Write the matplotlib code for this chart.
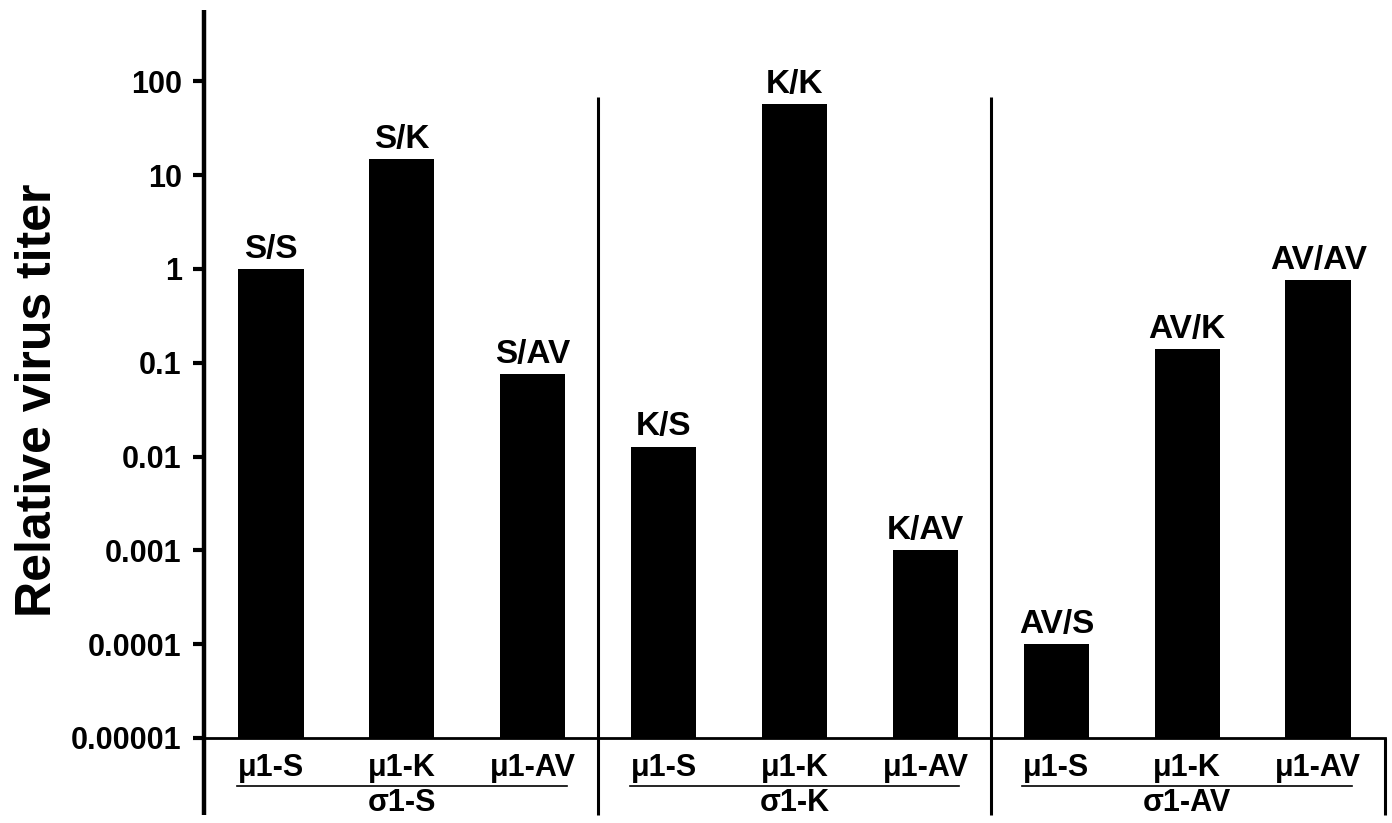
import numpy as np
import matplotlib
matplotlib.use("Agg")
import matplotlib.pyplot as plt
from matplotlib.lines import Line2D
import matplotlib.transforms as mtransforms

# ---- data ----
bar_labels = ["S/S", "S/K", "S/AV", "K/S", "K/K", "K/AV", "AV/S", "AV/K", "AV/AV"]
values = [1.0, 14.8, 0.076, 0.0128, 57.5, 0.001, 0.0001, 0.14, 0.77]
mu_labels = ["μ1-S", "μ1-K", "μ1-AV", "μ1-S", "μ1-K", "μ1-AV", "μ1-S", "μ1-K", "μ1-AV"]
group_labels = ["σ1-S", "σ1-K", "σ1-AV"]
ytick_values = [1e-5, 1e-4, 1e-3, 1e-2, 1e-1, 1, 10, 100]
ytick_labels = ["0.00001", "0.0001", "0.001", "0.01", "0.1", "1", "10", "100"]
y_title = "Relative virus titer"

plt.rcParams['font.family'] = ['Liberation Sans', 'DejaVu Sans']
plt.rcParams['font.weight'] = 'bold'

W, H = 1392, 823
fig = plt.figure(figsize=(W / 100, H / 100), dpi=100)
left_px, right_px, top_px, bot_px = 204, 1385, 10, 738
ax = fig.add_axes([left_px / W, 1 - bot_px / H, (right_px - left_px) / W, (bot_px - top_px) / H])

x = np.arange(len(values))
ax.bar(x, values, width=0.5, color='black')
ax.set_yscale('log')
ax.set_ylim(1e-5, 10 ** (-5 + (bot_px - top_px) / 93.8))
ax.set_xlim(-0.51, len(values) - 1 + 0.51)

ax.set_yticks(ytick_values)
ax.set_yticklabels(ytick_labels, fontsize=22, fontweight='bold')
ax.yaxis.set_minor_locator(matplotlib.ticker.NullLocator())
ax.tick_params(axis='y', direction='out', length=8, width=3, pad=8)

ax.set_xticks(x)
ax.set_xticklabels(mu_labels, fontsize=22, fontweight='bold')
ax.tick_params(axis='x', length=0, pad=11)

for s in ['top', 'right', 'left']:
    ax.spines[s].set_visible(False)
ax.spines['bottom'].set_linewidth(2)

# bar labels
for xi, v, lab in zip(x, values, bar_labels):
    ax.annotate(lab, (xi, v), xytext=(0, 8), textcoords='offset points',
                ha='center', va='baseline', fontsize=24, fontweight='bold')

trans = mtransforms.blended_transform_factory(ax.transData, ax.transAxes)
ybot = (bot_px - 815) / (bot_px - top_px)
ysep = (bot_px - 97) / (bot_px - top_px)

# y axis line (extends below x axis)
ax.add_line(Line2D([-0.51, -0.51], [ybot, 1.0], transform=trans, color='black', lw=3.2,
                   clip_on=False, solid_capstyle='butt'))
# right end line below axis
ax.add_line(Line2D([len(values) - 1 + 0.51] * 2, [ybot, 0], transform=trans, color='black', lw=2.2,
                   clip_on=False, solid_capstyle='butt'))

n_groups = len(group_labels)
per = len(values) // n_groups
for g in range(n_groups):
    start = g * per
    end = start + per - 1
    if g > 0:
        xs = start - 0.5
        ax.add_line(Line2D([xs, xs], [ybot, ysep], transform=trans, color='black', lw=2.2,
                           clip_on=False, solid_capstyle='butt'))
    yul = (bot_px - 786) / (bot_px - top_px)
    ax.add_line(Line2D([start - 0.26, end + 0.26], [yul, yul], transform=trans, color='black',
                       lw=1.2, clip_on=False))
    ax.text((start + end) / 2, (bot_px - 803) / (bot_px - top_px), group_labels[g], transform=trans,
            ha='center', va='center', fontsize=22, fontweight='bold')

fig.text(38 / W, 1 - 400 / H, y_title, rotation=90, ha='center', va='center',
         fontsize=36, fontweight='bold')

fig.savefig('out.png', dpi=100)
